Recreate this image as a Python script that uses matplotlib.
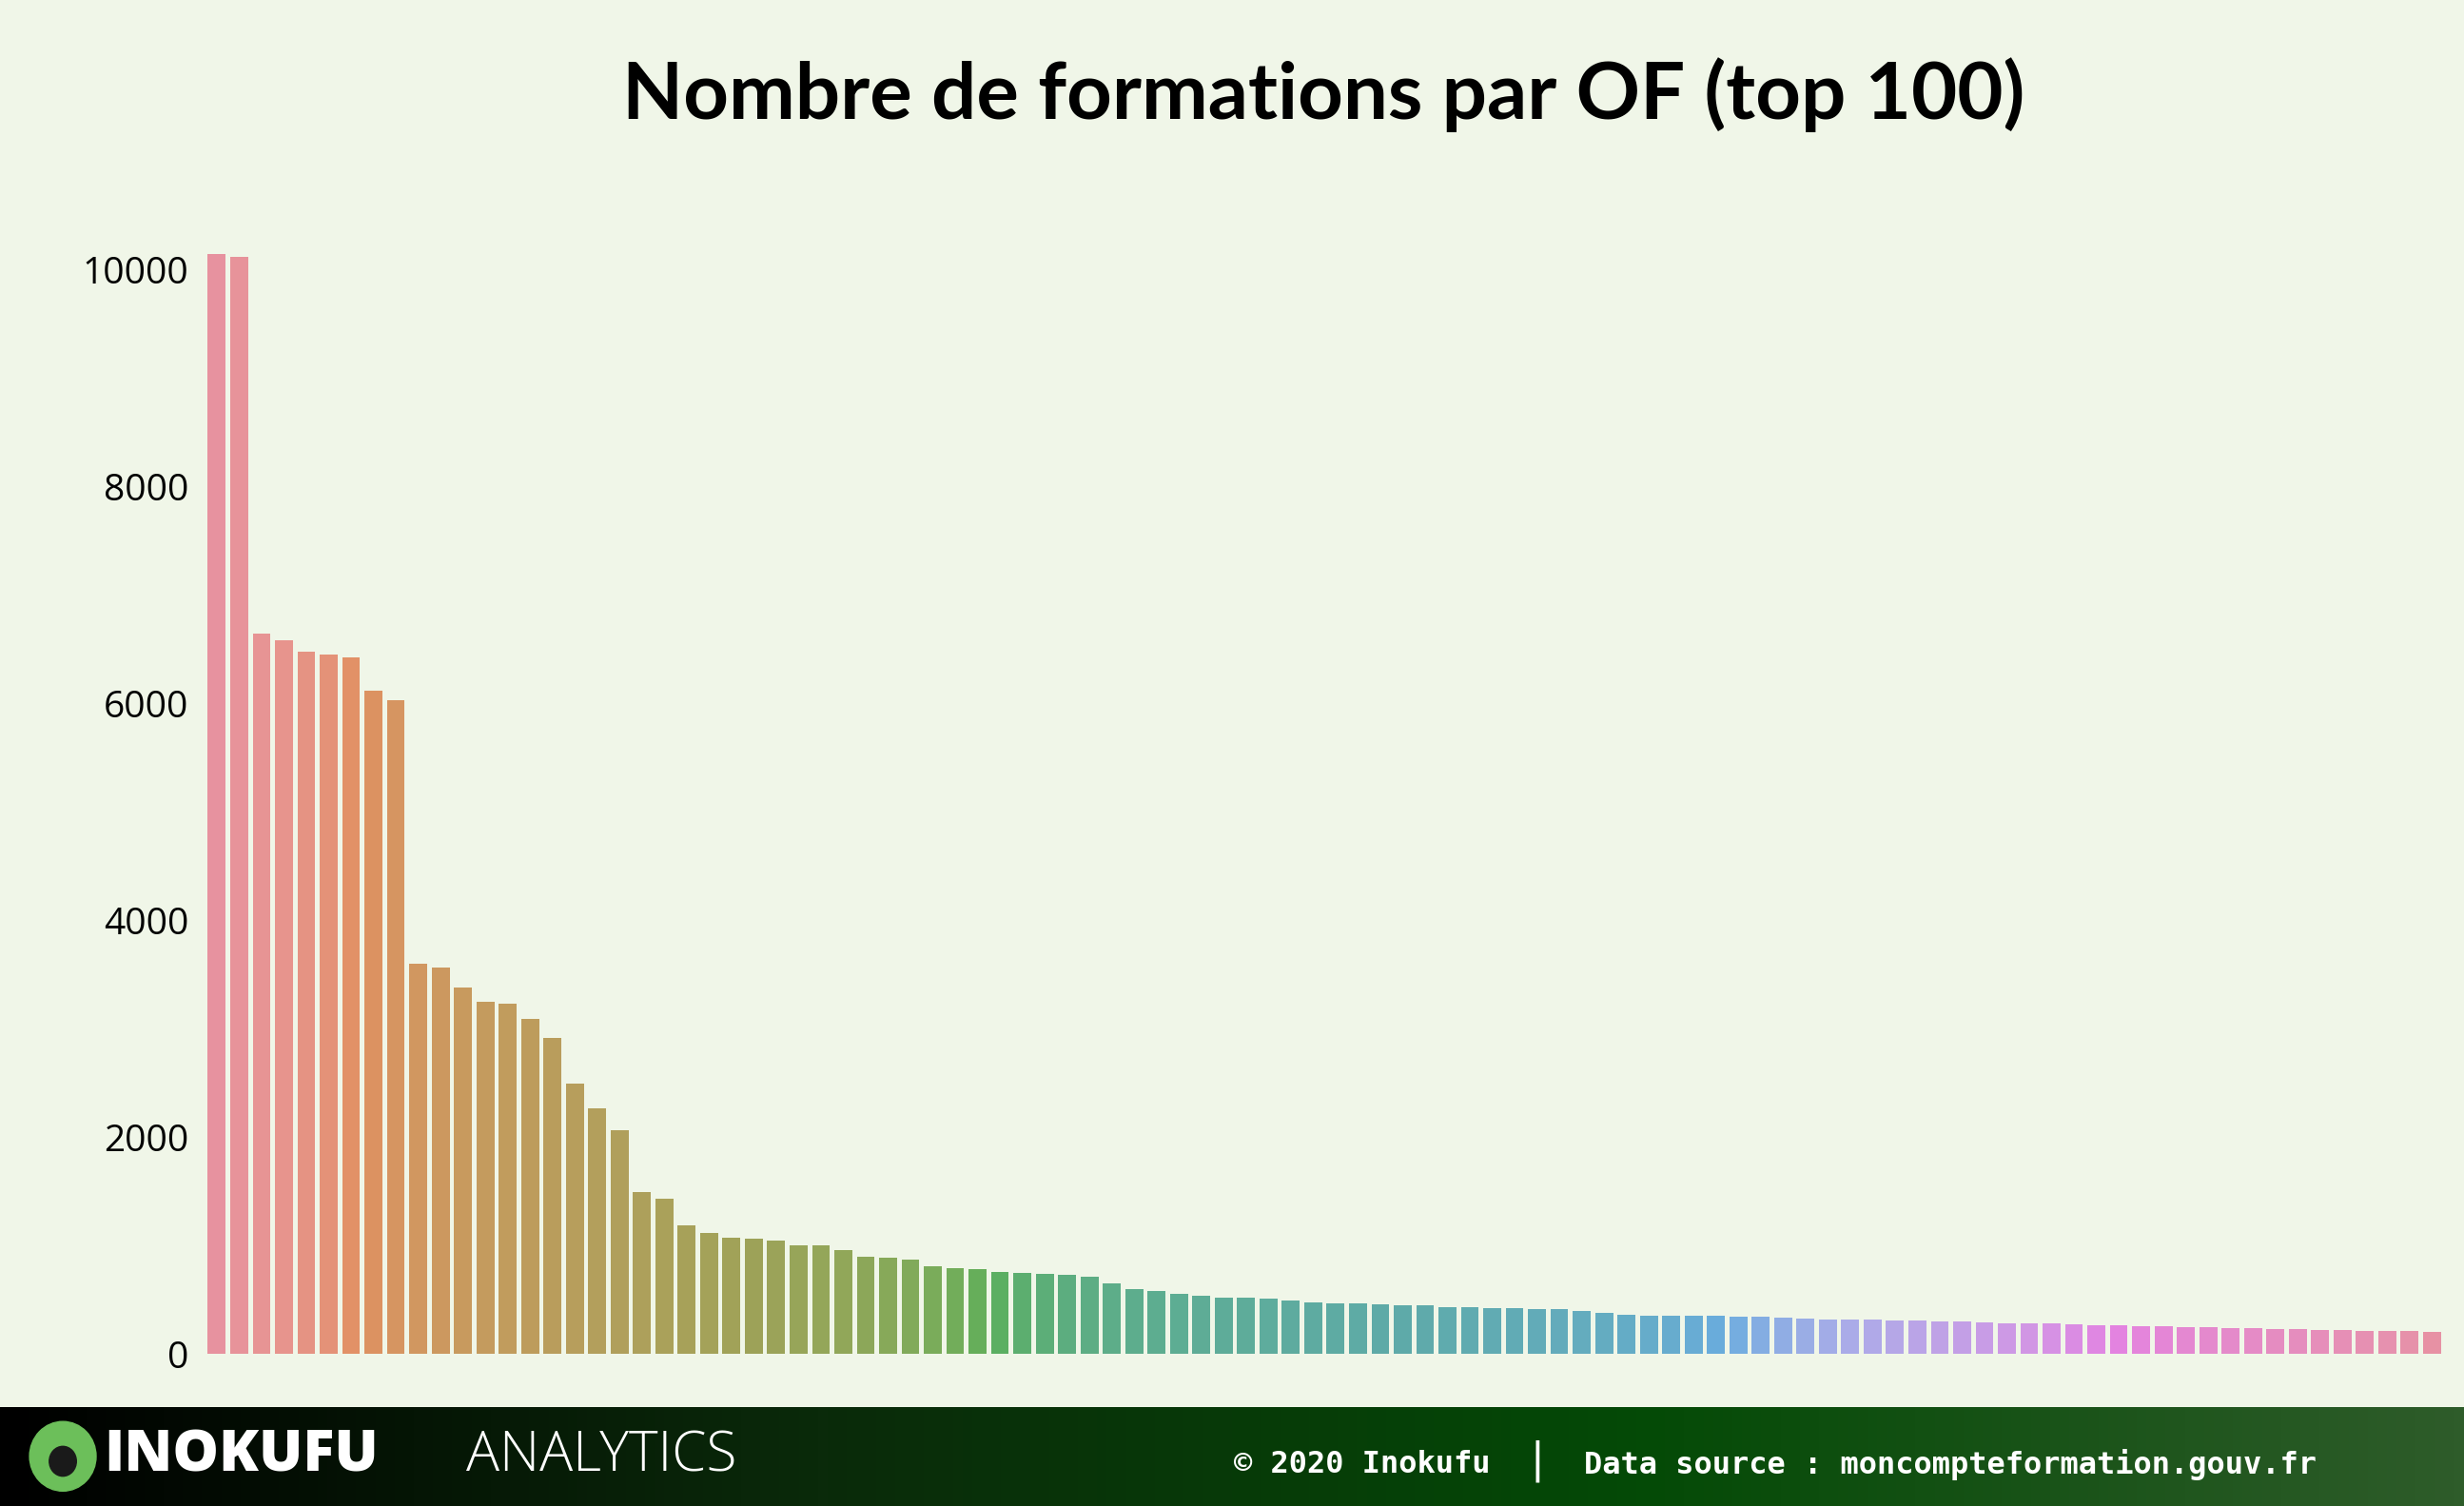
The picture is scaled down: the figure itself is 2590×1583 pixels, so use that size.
import matplotlib
matplotlib.use("Agg")
import matplotlib.pyplot as plt
import numpy as np
import seaborn as sns
from matplotlib.patches import Ellipse
from matplotlib.colors import LinearSegmentedColormap

values = [10145, 10116, 6638, 6580, 6478, 6449, 6420, 6116, 6029, 3594,
          3565, 3377, 3246, 3232, 3087, 2913, 2493, 2261, 2058, 1493,
          1435, 1188, 1116, 1072, 1058, 1043, 1000, 1000, 957, 899,
          884, 870, 812, 790, 780, 754, 750, 740, 725, 710,
          650, 594, 580, 550, 536, 522, 520, 507, 493, 478,
          470, 464, 460, 449, 445, 435, 432, 420, 418, 415,
          412, 400, 377, 362, 355, 352, 350, 348, 345, 342,
          335, 325, 320, 318, 315, 312, 305, 300, 295, 290,
          285, 280, 278, 272, 268, 262, 258, 252, 248, 243,
          238, 235, 230, 226, 222, 218, 215, 212, 208, 205]
categories = [f"OF{i+1}" for i in range(len(values))]
yticks = [0, 2000, 4000, 6000, 8000, 10000]
title = "Nombre de formations par OF (top 100)"

bg = "#f0f6e8"
fig = plt.figure(figsize=(25.9, 15.83), dpi=100, facecolor=bg)
ax = fig.add_axes([0.083, 0.101, 0.909, 0.731])
ax.set_facecolor(bg)
colors = [sns.desaturate(c, 0.75) for c in sns.color_palette("husl", len(values))]
x = np.arange(len(values))
ax.bar(x, values, width=0.8, color=colors, alpha=0.85)
ax.set_xlim(-0.55, len(values) - 0.45)
ax.set_ylim(0, 10150)
ax.set_xticks([])
ax.set_yticks(yticks)
ax.set_yticklabels([str(v) for v in yticks], fontsize=28, family="Open Sans")
ax.tick_params(axis="y", length=0, pad=12)
for s in ax.spines.values():
    s.set_visible(False)
fig.text(0.537, 0.937, title, ha="center", va="center", fontsize=60,
         fontweight="bold", family="Lato")

# footer band
fax = fig.add_axes([0, 0, 1, 0.066])
grad = np.linspace(0, 1, 256)[None, :]
cm = LinearSegmentedColormap.from_list("g", ["#000000", "#0a2a0a", "#044a06", "#2e5c2a"])
fax.imshow(grad, aspect="auto", cmap=cm, extent=[0, 1, 0, 1])
fax.set_xlim(0, 1); fax.set_ylim(0, 1); fax.axis("off")
fax.add_patch(Ellipse((0.0255, 0.5), 0.027, 0.7, color="#6cbf5a"))
fax.add_patch(Ellipse((0.0255, 0.45), 0.011, 0.3, color="#1a1a1a"))
fax.text(0.042, 0.5, "INOKUFU", color="white", fontsize=44, fontweight="heavy",
         family="Open Sans", va="center")
fax.text(0.189, 0.5, "ANALYTICS", color="white", fontsize=42, family="Open Sans",
         va="center", fontweight="light")
fax.text(0.605, 0.42, "© 2020 Inokufu", color="white", fontsize=23,
         family="DejaVu Sans Mono", fontweight="bold", va="center", ha="right")
fax.text(0.624, 0.45, "|", color="white", fontsize=32, family="DejaVu Sans Mono",
         va="center", ha="center")
fax.text(0.643, 0.42, "Data source : moncompteformation.gouv.fr", color="white",
         fontsize=23, family="DejaVu Sans Mono", fontweight="bold", va="center")

fig.savefig("out.png", dpi=100, facecolor=bg)
